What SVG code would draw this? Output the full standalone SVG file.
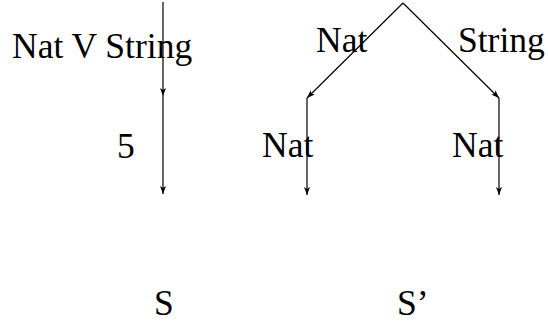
<svg xmlns="http://www.w3.org/2000/svg" width="548" height="322" viewBox="0 0 548 322">
<style>
text{font-family:"Liberation Serif","Times New Roman",serif;font-size:35.5px;fill:#000}
.c{stroke:#000;stroke-width:1.2;fill:none}
</style>
<defs>
<marker id="ah" markerWidth="8" markerHeight="6" refX="8" refY="3" orient="auto" markerUnits="userSpaceOnUse">
<path d="M0,0 L8,3 L0,6 L2,3 Z" fill="#000"/>
</marker>
</defs>
<g id="connectors">
<line class="c" x1="163" y1="2" x2="163" y2="96" marker-end="url(#ah)"/>
<line class="c" x1="163" y1="96" x2="163" y2="194" marker-end="url(#ah)"/>
<line class="c" x1="403" y1="3" x2="307" y2="98" marker-end="url(#ah)"/>
<line class="c" x1="403" y1="3" x2="499" y2="98" marker-end="url(#ah)"/>
<line class="c" x1="307" y1="98" x2="307" y2="195" marker-end="url(#ah)"/>
<line class="c" x1="499" y1="98" x2="499" y2="195" marker-end="url(#ah)"/>
</g>
<g id="n-natvstring"><text x="12" y="58">Nat V String</text></g>
<g id="n-5"><text x="117" y="158">5</text></g>
<g id="n-nat-top"><text x="316" y="52">Nat</text></g>
<g id="n-string-top"><text x="458" y="52">String</text></g>
<g id="n-nat-left"><text x="262" y="157">Nat</text></g>
<g id="n-nat-right"><text x="452" y="157">Nat</text></g>
<g id="n-s"><text x="154" y="315">S</text></g>
<g id="n-sprime"><text x="397" y="315">S’</text></g>
</svg>
